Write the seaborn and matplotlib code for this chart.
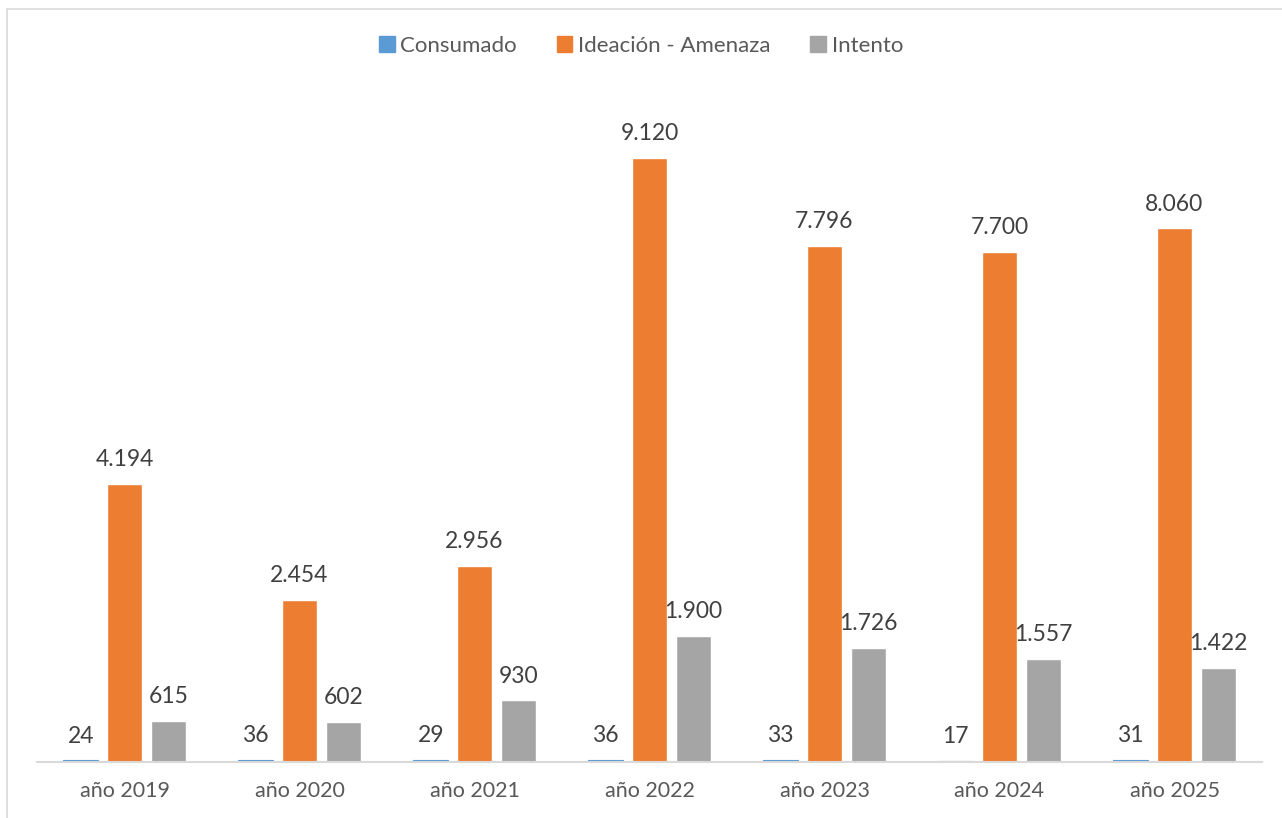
import pandas as pd
import numpy as np
import matplotlib.pyplot as plt
import matplotlib.patches as mpatches
import seaborn as sns

# data
years = ['año 2019', 'año 2020', 'año 2021', 'año 2022', 'año 2023', 'año 2024', 'año 2025']
series = ['Consumado', 'Ideación - Amenaza', 'Intento']
consumado = [24, 36, 29, 36, 33, 17, 31]
ideacion = [4194, 2454, 2956, 9120, 7796, 7700, 8060]
intento = [615, 602, 930, 1900, 1726, 1557, 1422]
colors = ['#5B9BD5', '#ED7D31', '#A5A5A5']

df = pd.DataFrame({
    'year': years * 3,
    'serie': [series[0]] * 7 + [series[1]] * 7 + [series[2]] * 7,
    'value': consumado + ideacion + intento,
})

sns.set_theme(style='white')
plt.rcParams['font.family'] = ['Lato', 'DejaVu Sans']

fig = plt.figure(figsize=(12.82, 8.18), dpi=100)
ax = fig.add_axes([37 / 1282, 56 / 818, 1225 / 1282, 662 / 818])

sns.barplot(data=df, x='year', y='value', hue='serie', palette=colors,
            width=0.75, gap=0.2, saturation=1, ax=ax, legend=False)

# make the tiny "Consumado" bars visible like in the original
for bar in ax.containers[0]:
    bar.set_edgecolor(colors[0])
    bar.set_linewidth(0.8)

def fmt(v):
    return f'{v:,}'.replace(',', '.')

for cont, vals in zip(ax.containers, [consumado, ideacion, intento]):
    ax.bar_label(cont, labels=[fmt(v) for v in vals], padding=10,
                 fontsize=16.5, color='#404040')

ax.set_ylim(0, 10000)
ax.set_xlim(-0.5, 6.5)
ax.set_xlabel('')
ax.set_ylabel('')
ax.set_yticks([])
ax.tick_params(axis='x', length=0, pad=14, labelsize=15.5, labelcolor='#595959')
for s in ['top', 'right', 'left']:
    ax.spines[s].set_visible(False)
ax.spines['bottom'].set_color('#D9D9D9')
ax.spines['bottom'].set_linewidth(1.5)

handles = [mpatches.Patch(color=c, label=s) for c, s in zip(colors, series)]
fig.legend(handles=handles, loc='center', bbox_to_anchor=(0.5, 1 - 46 / 818),
           ncol=3, frameon=False, fontsize=16, handlelength=0.7, handleheight=0.7,
           handletextpad=0.25, columnspacing=1.8, labelcolor='#595959')

# outer chart border
fig.patches.append(mpatches.Rectangle((7 / 1282, -0.1), 1.2, 1 - 9 / 818 + 0.1,
                                      transform=fig.transFigure, fill=False,
                                      edgecolor='#D9D9D9', linewidth=1.2))

fig.savefig('out.png', dpi=100)
